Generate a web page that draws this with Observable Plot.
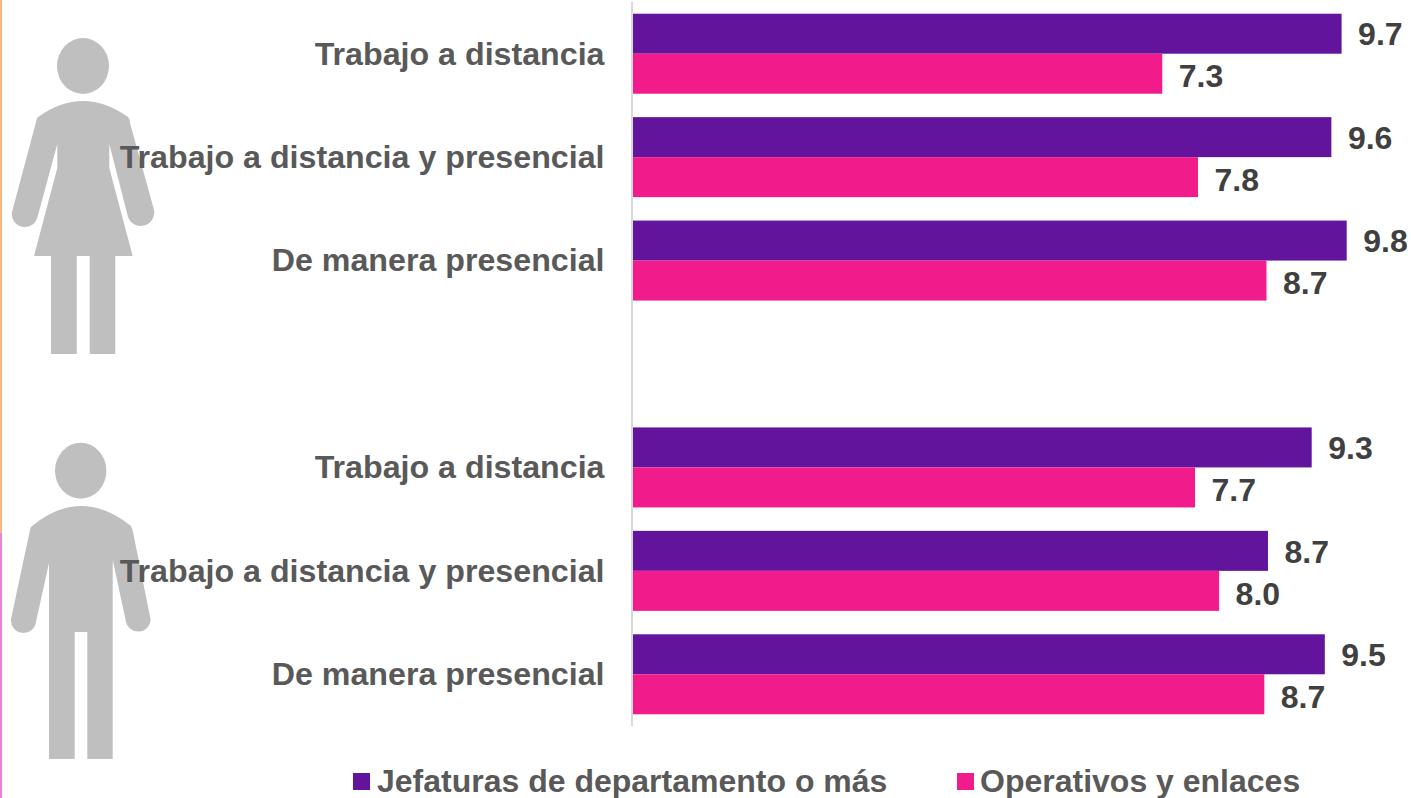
<!DOCTYPE html>
<html><head><meta charset="utf-8">
<script src="https://cdn.jsdelivr.net/npm/d3@7"></script>
<script src="https://cdn.jsdelivr.net/npm/@observablehq/plot@0.6"></script>
<style>
html,body{margin:0;padding:0;background:#fff;width:1411px;height:798px;overflow:hidden}
#wrap{position:relative;width:1411px;height:798px;font-family:"Liberation Sans",Arial,sans-serif}
#icons{position:absolute;left:0;top:0}
#chart{position:absolute;left:0;top:0}
.edge{position:absolute;left:0;width:1.5px}
#baseline{position:absolute;left:631px;top:2px;width:2px;height:724px;background:#d9d9d9}
.lg{position:absolute;font-weight:bold;font-size:32px;line-height:34px;color:#595959;white-space:nowrap;top:764px}
.sw{position:absolute;top:773px;width:17px;height:17px}
</style></head><body>
<div id="wrap">
<div class="edge" style="top:0;height:533px;background:#f4b97f"></div>
<div class="edge" style="top:533px;height:265px;background:#e884d8"></div>
<div id="baseline"></div>
<svg id="icons" width="1411" height="798" fill="#bfbfbf">
<ellipse cx="83" cy="66" rx="26" ry="28"/>
<path d="M38,117 Q83,85 128,117 Q130,119 130,123 L153.5,208 A13,13 0 0 1 128,217 L109.3,144 L109.3,168 L132.7,256 L115.3,256 L115.3,354 L89.7,354 L89.7,256 L76.7,256 L76.7,354 L51,354 L51,256 L34,256 L57.3,168 L57.3,144 L37.5,217 A13,13 0 0 1 12,212 L36,122 Q36,119 38,117 Z"/>
<ellipse cx="80.7" cy="470.7" rx="25.7" ry="28"/>
<path d="M32,526 Q81,486 131,526 Q132,528 133,532 L150.7,620 A12.5,12.5 0 0 1 126,621.7 L112.7,560 L112.7,759 L87.3,759 L87.3,632 L74.7,632 L74.7,759 L49,759 L49,563 L36,621.7 A12.5,12.5 0 0 1 11,619 L30,530 Q30,528 32,526 Z"/>
</svg>
<div id="chart"></div>
<div class="sw" style="left:353px;background:#62149c"></div>
<div class="lg" style="left:377px">Jefaturas de departamento o más</div>
<div class="sw" style="left:957px;background:#f21b8b"></div>
<div class="lg" style="left:980px">Operativos y enlaces</div>
</div>
<script>
const rowKeys = ["m1","m2","m3","gap","h1","h2","h3"];
const rowLabels = ["Trabajo a distancia","Trabajo a distancia y presencial","De manera presencial","","Trabajo a distancia","Trabajo a distancia y presencial","De manera presencial"];
const seriesNames = ["Jefaturas de departamento o más","Operativos y enlaces"];
const rows = ["m1","m2","m3","h1","h2","h3"];
const jefaturas = [9.72,9.58,9.79,9.31,8.71,9.49];
const operativos = [7.26,7.75,8.69,7.71,8.04,8.66];
const seriesColors = ["#62149c","#f21b8b"];

const data = rows.flatMap((r,i)=>[
  {row:r,series:seriesNames[0],value:jefaturas[i]},
  {row:r,series:seriesNames[1],value:operativos[i]}
]);
const labelOf = new Map(rowKeys.map((k,i)=>[k,rowLabels[i]]));
const pick = s => data.filter(d=>d.series===s);
const valueText = (s,dy)=>Plot.text(pick(s),{
  x:"value",y:"series",fy:"row",text:d=>d.value.toFixed(1),
  textAnchor:"start",dx:16,dy,fontSize:32,fontWeight:"bold",fill:"#404040"
});

const chart = Plot.plot({
  width:1411,height:745,
  marginLeft:633,marginRight:49,marginTop:2,marginBottom:19,
  style:{background:"transparent",fontFamily:'"Liberation Sans",Arial,sans-serif'},
  x:{domain:[0,10],axis:null},
  y:{domain:seriesNames,padding:0,axis:null,round:false},
  fy:{domain:rowKeys,paddingInner:0.2265,paddingOuter:0.11325,round:false,axis:null},
  color:{domain:seriesNames,range:seriesColors},
  marks:[
    Plot.axisFy({anchor:"left",tickSize:0,tickPadding:29,label:null,
      tickFormat:k=>labelOf.get(k),fontSize:32.2,fontWeight:"bold",fill:"#595959"}),
    Plot.barX(data,{x:"value",y:"series",fy:"row",fill:"series"}),
    valueText(seriesNames[0],1),
    valueText(seriesNames[1],3)
  ]
});
document.getElementById("chart").appendChild(chart);
</script>
</body></html>
